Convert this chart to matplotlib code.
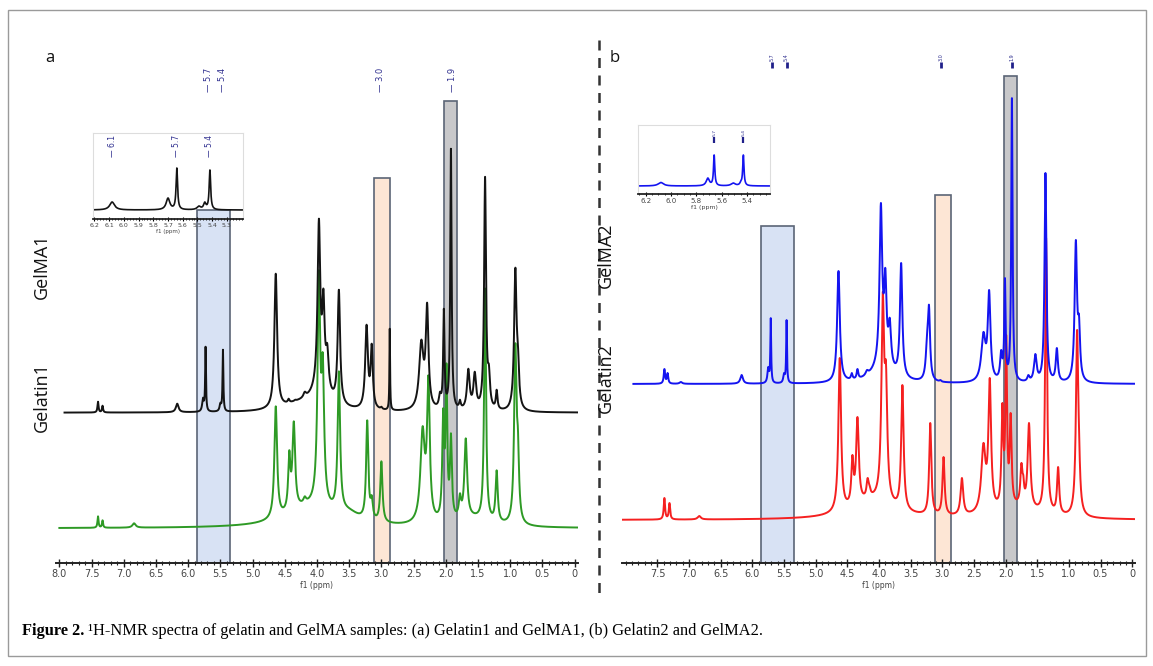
import numpy as np
import matplotlib
matplotlib.use("Agg")
import matplotlib.pyplot as plt
from matplotlib.patches import Rectangle
from matplotlib.lines import Line2D
from matplotlib.ticker import MultipleLocator, FixedLocator, FixedFormatter

W, H = 1153, 666

# ---------------- data ----------------
# peak lists: position (ppm), observed height above baseline, FWHM (ppm)
gelma1_ppm    = [7.40, 7.33, 6.17, 5.77, 5.73, 5.50, 5.46, 4.64, 4.44, 4.34, 4.19, 3.97, 3.90, 3.84,
                 3.66, 3.23, 3.15, 3.00, 2.87, 2.38, 2.29, 2.09, 2.03, 1.92, 1.78, 1.65, 1.55, 1.39, 1.33,
                 1.21, 0.92, 0.88]
gelma1_height = [11, 7, 9, 15, 66, 10, 63, 139, 14, 13, 21, 194, 124, 69,
                 123, 88, 69, 6, 84, 73, 110, 21, 104, 264, 13, 44, 41, 236, 48,
                 23, 145, 69]
gelma1_width  = [0.02, 0.02, 0.05, 0.03, 0.015, 0.03, 0.015, 0.05, 0.03, 0.03, 0.05, 0.05, 0.045, 0.05,
                 0.045, 0.05, 0.04, 0.03, 0.012, 0.08, 0.05, 0.04, 0.025, 0.025, 0.03, 0.05, 0.05, 0.035, 0.04,
                 0.03, 0.045, 0.04]
gelma1_bg     = [(3.95, 18, 0.40), (4.30, 6, 0.60)]

gelatin1_ppm    = [7.40, 7.33, 6.84, 4.64, 4.43, 4.36, 4.19, 3.97, 3.91, 3.66, 3.22, 3.15, 3.00,
                   2.36, 2.27, 2.04, 1.99, 1.92, 1.78, 1.69, 1.39, 1.21, 0.92, 0.88]
gelatin1_height = [12, 8, 5, 122, 78, 107, 32, 258, 175, 157, 108, 33, 67,
                   102, 153, 120, 165, 95, 35, 90, 240, 58, 185, 100]
gelatin1_width  = [0.02, 0.02, 0.06, 0.05, 0.04, 0.05, 0.05, 0.05, 0.05, 0.045, 0.04, 0.04, 0.04,
                   0.08, 0.05, 0.035, 0.03, 0.035, 0.04, 0.05, 0.035, 0.04, 0.045, 0.04]
gelatin1_bg     = [(4.10, 20, 0.9), (3.50, 8, 0.4), (1.60, 8, 0.6)]

gelma2_ppm    = [7.39, 7.34, 7.13, 6.17, 5.75, 5.71, 5.50, 5.46, 4.64, 4.43, 4.34, 4.19, 3.97, 3.90, 3.83,
                 3.65, 3.24, 3.21, 3.03, 2.35, 2.26, 2.07, 2.01, 1.90, 1.64, 1.53, 1.37, 1.19, 0.89, 0.84]
gelma2_height = [15, 11, 2, 9, 17, 66, 11, 64, 113, 11, 15, 14, 181, 116, 66,
                 121, 51, 79, 4, 52, 94, 34, 106, 286, 9, 30, 211, 36, 144, 69]
gelma2_width  = [0.025, 0.025, 0.05, 0.05, 0.03, 0.015, 0.03, 0.015, 0.05, 0.03, 0.03, 0.05, 0.05, 0.045, 0.05,
                 0.045, 0.05, 0.04, 0.03, 0.08, 0.05, 0.04, 0.025, 0.025, 0.04, 0.05, 0.035, 0.04, 0.045, 0.04]
gelma2_bg     = [(3.95, 16, 0.40)]

gelatin2_ppm    = [7.39, 7.31, 6.84, 4.62, 4.42, 4.34, 4.18, 4.15, 3.94, 3.89, 3.63, 3.19, 2.98, 2.69,
                   2.35, 2.25, 2.05, 1.99, 1.92, 1.75, 1.72, 1.63, 1.36, 1.17, 0.87, 0.84]
gelatin2_height = [22, 17, 4, 162, 65, 103, 42, 35, 228, 158, 135, 97, 63, 42,
                   77, 142, 117, 185, 107, 57, 45, 97, 282, 53, 190, 92]
gelatin2_width  = [0.025, 0.025, 0.06, 0.05, 0.04, 0.05, 0.04, 0.04, 0.05, 0.05, 0.045, 0.04, 0.04, 0.05,
                   0.08, 0.05, 0.035, 0.03, 0.035, 0.04, 0.03, 0.05, 0.035, 0.04, 0.045, 0.04]
gelatin2_bg     = [(4.10, 18, 0.8), (1.80, 10, 0.8)]

# inset spectra (5.2-6.2 ppm region)
inset1_ppm    = [6.08, 5.70, 5.64, 5.49, 5.45, 5.415]
inset1_height = [8, 12, 42, 4, 8, 40]
inset1_width  = [0.04, 0.03, 0.012, 0.03, 0.02, 0.012]
inset2_ppm    = [6.08, 5.71, 5.66, 5.51, 5.45, 5.43]
inset2_height = [3.5, 8, 31, 3, 5, 31]
inset2_width  = [0.05, 0.03, 0.012, 0.04, 0.02, 0.012]

# highlighted regions (ppm ranges) and their top levels
region_ppm = [(5.86, 5.35), (3.12, 2.87), (2.02, 1.82)]
region_top_a = [353, 385, 462]
region_top_b = [337, 368, 487]
region_faces = ['#d8e2f4', '#fde6d5', '#c8c8ca']

# peak picking labels
pick_labels = ['5.7', '5.4', '3.0', '1.9']
pick_ppm = [5.69, 5.46, 3.02, 1.90]
inset1_labels = ['6.1', '5.7', '5.4']
inset1_label_ppm = [6.08, 5.64, 5.415]
inset2_labels = ['5.7', '5.4']
inset2_label_ppm = [5.66, 5.43]

tick_a = [8.0, 7.5, 7.0, 6.5, 6.0, 5.5, 5.0, 4.5, 4.0, 3.5, 3.0, 2.5, 2.0, 1.5, 1.0, 0.5, 0.0]
tick_a_labels = ['8.0', '7.5', '7.0', '6.5', '6.0', '5.5', '5.0', '4.5', '4.0', '3.5', '3.0', '2.5',
                 '2.0', '1.5', '1.0', '0.5', '0']
tick_b = tick_a[1:]
tick_b_labels = tick_a_labels[1:]
inset1_ticks = [6.2, 6.1, 6.0, 5.9, 5.8, 5.7, 5.6, 5.5, 5.4, 5.3]
inset2_ticks = [6.2, 6.0, 5.8, 5.6, 5.4]

caption_bold = "Figure 2."
caption_rest = " \u00b9H-NMR spectra of gelatin and GelMA samples: (a) Gelatin1 and GelMA1, (b) Gelatin2 and GelMA2."


# ---------------- helpers ----------------
def lorentz(x, ppm, amp, wid):
    p = np.asarray(ppm, float)[None, :]
    a = np.asarray(amp, float)[None, :]
    w = np.asarray(wid, float)[None, :]
    return (a / (1.0 + ((np.asarray(x, float)[:, None] - p) / (w / 2.0)) ** 2)).sum(axis=1)


def spectrum(x, ppm, obs, wid, bg=()):
    """Lorentzian line shapes whose summed height at each listed position equals the observed height."""
    p = np.asarray(ppm, float)
    w = np.asarray(wid, float)
    if bg:
        bp, ba, bw = zip(*bg)
        back_p = lorentz(p, bp, ba, bw)
        back_x = lorentz(x, bp, ba, bw)
    else:
        back_p = np.zeros_like(p)
        back_x = np.zeros_like(x)
    A = 1.0 / (1.0 + ((p[:, None] - p[None, :]) / (w[None, :] / 2.0)) ** 2)
    target = np.asarray(obs, float) - back_p
    amp = np.linalg.solve(A, target)
    for _ in range(20):
        amp = np.clip(amp, 0, None)
        resid = target - A @ amp
        amp = amp + resid
    amp = np.clip(amp, 0, None)
    return lorentz(x, p, amp, w) + back_x


def add_axes_px(fig, left, top, right, bottom):
    return fig.add_axes([left / W, 1 - bottom / H, (right - left) / W, (bottom - top) / H])


def fx(x):
    return x / W


def fy(y):
    return 1 - y / H


fig = plt.figure(figsize=(W / 100, H / 100), dpi=100)
fig.patch.set_facecolor('white')

# outer frame
fig.patches.append(Rectangle((fx(8), fy(656)), (1146 - 8) / W, (656 - 10) / H, transform=fig.transFigure,
                             fill=False, edgecolor='#9a9a9a', linewidth=1.0))

NAVY = '#2f2f8f'
EDGE = '#5b6576'


def style_main(ax, xlim, ticks, labels):
    ax.set_xlim(*xlim)
    ax.set_ylim(0, 523)
    for s in ['top', 'left', 'right']:
        ax.spines[s].set_visible(False)
    ax.spines['bottom'].set_linewidth(1.4)
    ax.spines['bottom'].set_color('#222222')
    ax.set_yticks([])
    ax.xaxis.set_major_locator(FixedLocator(ticks))
    ax.xaxis.set_major_formatter(FixedFormatter(labels))
    ax.xaxis.set_minor_locator(MultipleLocator(0.1))
    ax.tick_params(axis='x', which='major', direction='inout', length=6, width=1.0, labelsize=7,
                   labelcolor='#444444', pad=1.5, color='#222222')
    ax.tick_params(axis='x', which='minor', direction='inout', length=3, width=0.8, color='#222222')
    ax.set_xlabel('f1 (ppm)', fontsize=5.5, color='#444444', labelpad=1)
    ax.patch.set_alpha(0)


def style_inset(ax, xlim, ylim, ticks, fs):
    ax.set_xlim(*xlim)
    ax.set_ylim(*ylim)
    for s in ['top', 'left', 'right']:
        ax.spines[s].set_color('#dddddd')
        ax.spines[s].set_linewidth(0.8)
    ax.spines['bottom'].set_linewidth(1.3)
    ax.spines['bottom'].set_color('#222222')
    ax.set_yticks([])
    ax.set_xticks(ticks)
    ax.set_xticklabels([f'{t:.1f}' for t in ticks])
    ax.xaxis.set_minor_locator(MultipleLocator(0.02 if len(ticks) > 6 else 0.05))
    ax.tick_params(axis='x', which='major', direction='inout', length=3.5, width=0.8, labelsize=fs,
                   labelcolor='#444444', pad=1)
    ax.tick_params(axis='x', which='minor', direction='inout', length=2, width=0.6)
    ax.set_xlabel('f1 (ppm)', fontsize=fs - 0.5, color='#444444', labelpad=0.5)
    ax.patch.set_alpha(0)


# ---------------- panel a ----------------
axa = add_axes_px(fig, 55.5, 40, 577.8, 563)
style_main(axa, (8.06, -0.05), tick_a, tick_a_labels)
for (p0, p1), top, fc in zip(region_ppm, region_top_a, region_faces):
    axa.add_patch(Rectangle((p1, 0), p0 - p1, top, facecolor=fc, edgecolor=EDGE, linewidth=1.2, zorder=1))

x_black = np.linspace(7.92, -0.04, 9000)
x_green = np.linspace(8.0, -0.04, 9000)
axa.plot(x_green, 34.7 + spectrum(x_green, gelatin1_ppm, gelatin1_height, gelatin1_width, gelatin1_bg),
         color='#2e9a25', lw=1.4, zorder=3)
axa.plot(x_black, 150.3 + spectrum(x_black, gelma1_ppm, gelma1_height, gelma1_width, gelma1_bg),
         color='#141414', lw=1.4, zorder=4)
for lab, p in zip(pick_labels, pick_ppm):
    axa.text(p, 471, '\u2014 ' + lab, rotation=90, ha='center', va='bottom', fontsize=6, color=NAVY)

# ---------------- panel b ----------------
axb = add_axes_px(fig, 622, 40, 1134.7, 563)
style_main(axb, (8.06, -0.04), tick_b, tick_b_labels)
for (p0, p1), top, fc in zip(region_ppm, region_top_b, region_faces):
    axb.add_patch(Rectangle((p1, 0), p0 - p1, top, facecolor=fc, edgecolor=EDGE, linewidth=1.2, zorder=1))

x_blue = np.linspace(7.88, -0.04, 9000)
x_red = np.linspace(8.05, -0.04, 9000)
axb.plot(x_red, 43 + spectrum(x_red, gelatin2_ppm, gelatin2_height, gelatin2_width, gelatin2_bg),
         color='#f52020', lw=1.4, zorder=3)
axb.plot(x_blue, 179 + spectrum(x_blue, gelma2_ppm, gelma2_height, gelma2_width, gelma2_bg),
         color='#1414f0', lw=1.4, zorder=4)
for lab, p in zip(pick_labels, pick_ppm):
    axb.plot([p, p], [495, 501], color='#20208a', lw=2.0, solid_capstyle='butt')
    axb.text(p, 502, lab, rotation=90, ha='center', va='bottom', fontsize=3.5, color=NAVY)

# ---------------- inset a ----------------
ina = add_axes_px(fig, 93, 133, 243, 219)
style_inset(ina, (6.21, 5.19), (0, 86), inset1_ticks, 4.5)
xi = np.linspace(6.21, 5.19, 3000)
ina.plot(xi, 9 + spectrum(xi, inset1_ppm, inset1_height, inset1_width), color='#141414', lw=1.2)
for lab, p in zip(inset1_labels, inset1_label_ppm):
    ina.text(p, 62, '\u2014 ' + lab, rotation=90, ha='center', va='bottom', fontsize=5.5, color=NAVY)

# ---------------- inset b ----------------
inb = add_axes_px(fig, 638, 125, 770, 194)
style_inset(inb, (6.26, 5.22), (0, 69), inset2_ticks, 5)
xi2 = np.linspace(6.26, 5.22, 3000)
inb.plot(xi2, 8 + spectrum(xi2, inset2_ppm, inset2_height, inset2_width), color='#1414f0', lw=1.2)
for lab, p in zip(inset2_labels, inset2_label_ppm):
    inb.plot([p, p], [51, 57], color='#20208a', lw=1.6, solid_capstyle='butt')
    inb.text(p, 58, lab, rotation=90, ha='center', va='bottom', fontsize=3.2, color=NAVY)

# ---------------- labels ----------------
lab_font = dict(family=['Open Sans', 'DejaVu Sans'], color='#111111')
fig.text(fx(50), fy(58), 'a', fontsize=12, ha='center', va='center', **lab_font)
fig.text(fx(615), fy(58), 'b', fontsize=12, ha='center', va='center', **lab_font)
fig.text(fx(42), fy(266), 'GelMA1', fontsize=13, rotation=90, ha='center', va='center', **lab_font)
fig.text(fx(42), fy(397), 'Gelatin1', fontsize=13, rotation=90, ha='center', va='center', **lab_font)
fig.text(fx(606), fy(255), 'GelMA2', fontsize=13, rotation=90, ha='center', va='center', **lab_font)
fig.text(fx(606), fy(378), 'Gelatin2', fontsize=13, rotation=90, ha='center', va='center', **lab_font)

# dashed separator
fig.add_artist(Line2D([fx(599), fx(599)], [fy(40), fy(598)], transform=fig.transFigure,
                      color='#333333', lw=1.8, linestyle=(0, (4, 3))))

# caption
cap_font = ['Liberation Serif', 'DejaVu Serif']
t1 = fig.text(fx(22), fy(631), caption_bold, fontsize=11.8, fontweight='bold', ha='left', va='center',
              family=cap_font)
fig.canvas.draw()
bb = t1.get_window_extent(renderer=fig.canvas.get_renderer())
fig.text(bb.x1 / W, fy(631), caption_rest, fontsize=11.8, ha='left', va='center', family=cap_font)

fig.savefig('out.png', dpi=100)
